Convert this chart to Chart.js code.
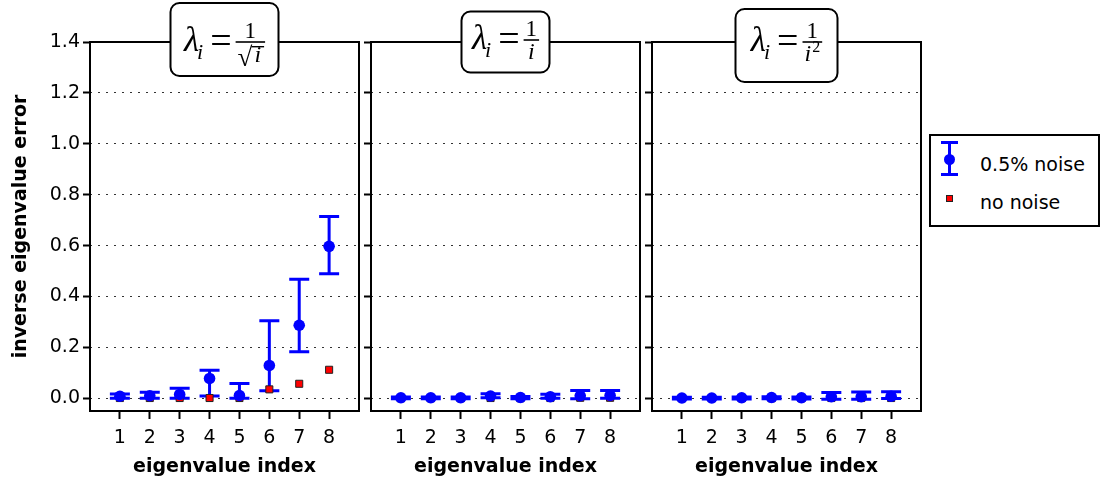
<!DOCTYPE html>
<html>
<head>
<meta charset="utf-8">
<script src="https://cdn.jsdelivr.net/npm/chart.js@4.4.1/dist/chart.umd.min.js"></script>
<style>
  body { margin: 0; background: #fff; }
  #wrap { position: relative; width: 1100px; height: 481px; overflow: hidden; }
  #wrap canvas { position: absolute; left: 0; top: 0; }
  .legend { position: absolute; left: 929px; top: 134px; width: 171px; height: 93px;
            box-sizing: border-box; border: 2px solid #000; background: #fff;
            font-family: "DejaVu Sans", sans-serif; font-size: 19px; color: #000; }
  .legend .lbl { position: absolute; left: 49px; line-height: 22px; white-space: nowrap; }
  .legend .blk { position: absolute; background: #0000ff; }
</style>
</head>
<body>
<div id="wrap">
  <canvas id="p1" width="1100" height="481"></canvas>
  <canvas id="p2" width="1100" height="481"></canvas>
  <canvas id="p3" width="1100" height="481"></canvas>
  <div class="legend">
    <div class="blk" style="left:17px;top:6px;width:3px;height:32px"></div>
    <div class="blk" style="left:10px;top:5px;width:17px;height:3px"></div>
    <div class="blk" style="left:10px;top:37px;width:17px;height:3px"></div>
    <div class="blk" style="left:13px;top:18px;width:11px;height:11px;border-radius:50%"></div>
    <div class="lbl" style="top:17px">0.5% noise</div>
    <div style="position:absolute;left:15px;top:59px;width:5px;height:5px;background:#ff0000;border:1px solid #222"></div>
    <div class="lbl" style="top:55px">no noise</div>
  </div>
</div>
<script>
// eigenvalue index and axis ticks
const idx    = [1, 2, 3, 4, 5, 6, 7, 8];
const xTicks = [1, 2, 3, 4, 5, 6, 7, 8];
const yTicks = [0.0, 0.2, 0.4, 0.6, 0.8, 1.0, 1.2, 1.4];

// lambda_i = 1/sqrt(i)
const sqrtMean  = [0.008, 0.010, 0.015, 0.078, 0.011, 0.129, 0.287, 0.597];
const sqrtLow   = [0.000, 0.000, 0.000, 0.009, 0.000, 0.030, 0.183, 0.489];
const sqrtHigh  = [0.017, 0.024, 0.039, 0.110, 0.058, 0.305, 0.468, 0.714];
const sqrtClean = [0.001, 0.001, 0.001, 0.001, 0.001, 0.035, 0.057, 0.112];

// lambda_i = 1/i
const invMean  = [0.002, 0.002, 0.002, 0.009, 0.003, 0.006, 0.010, 0.011];
const invLow   = [-0.002, -0.002, -0.002, 0.002, -0.002, 0.000, -0.002, 0.000];
const invHigh  = [0.005, 0.005, 0.005, 0.018, 0.007, 0.016, 0.031, 0.031];
const invClean = [0.000, 0.000, 0.000, 0.001, 0.000, 0.001, 0.002, 0.002];

// lambda_i = 1/i^2
const sqMean  = [0.001, 0.001, 0.002, 0.003, 0.002, 0.006, 0.006, 0.008];
const sqLow   = [-0.003, -0.003, -0.003, -0.002, -0.003, -0.004, -0.004, -0.001];
const sqHigh  = [0.004, 0.004, 0.005, 0.006, 0.005, 0.023, 0.025, 0.026];
const sqClean = [0.000, 0.000, 0.000, 0.000, 0.000, 0.001, 0.001, 0.001];

const SANS = '"DejaVu Sans", sans-serif';
const SERIF = '"Liberation Serif", serif';

// vertical error bars, drawn under the markers
const errorBars = {
  id: 'errorBars',
  beforeDatasetsDraw(chart) {
    const ds = chart.data.datasets[0];
    const xs = chart.scales.x, ys = chart.scales.y;
    const ctx = chart.ctx;
    ctx.save();
    ctx.strokeStyle = '#0000ff';
    ctx.lineWidth = 3;
    ds.errLow.forEach((lo, i) => {
      const x = xs.getPixelForValue(idx[i]);
      const y0 = ys.getPixelForValue(lo), y1 = ys.getPixelForValue(ds.errHigh[i]);
      ctx.beginPath();
      ctx.moveTo(x, y0); ctx.lineTo(x, y1);
      ctx.moveTo(x - 10, y0); ctx.lineTo(x + 10, y0);
      ctx.moveTo(x - 10, y1); ctx.lineTo(x + 10, y1);
      ctx.stroke();
    });
    ctx.restore();
  }
};

// closed box round the plot area
const frame = {
  id: 'frame',
  afterDraw(chart) {
    const a = chart.chartArea, ctx = chart.ctx;
    ctx.save();
    ctx.strokeStyle = '#000';
    ctx.lineWidth = 2;
    ctx.strokeRect(a.left, a.top, a.right - a.left, a.bottom - a.top);
    ctx.restore();
  }
};

// rounded title box holding lambda_i = 1/(...)
const mathTitle = {
  id: 'mathTitle',
  afterDraw(chart, args, opts) {
    const a = chart.chartArea, ctx = chart.ctx;
    const cx = (a.left + a.right) / 2;
    const bx = cx - opts.w / 2, by = opts.cy - opts.h / 2;
    ctx.save();
    ctx.beginPath();
    ctx.roundRect(bx, by, opts.w, opts.h, 9);
    ctx.fillStyle = '#fff';
    ctx.fill();
    ctx.lineWidth = 2;
    ctx.strokeStyle = '#000';
    ctx.stroke();

    ctx.fillStyle = '#000';
    ctx.textBaseline = 'alphabetic';
    ctx.textAlign = 'left';
    const big = 'italic 35px ' + SERIF, sub = 'italic 22px ' + SERIF;
    const eq = '38px ' + SERIF, frac = '23px ' + SERIF, fracI = 'italic 24px ' + SERIF;
    const rad = '27px ' + SERIF, small = '16px ' + SERIF;
    const base = opts.base;

    ctx.font = big; const wL = ctx.measureText('λ').width;
    ctx.font = sub; const wi = ctx.measureText('i').width;
    ctx.font = eq; const wEq = ctx.measureText('=').width;
    ctx.font = frac; const wOne = ctx.measureText('1').width;
    ctx.font = rad; const wRad = ctx.measureText('√').width;
    ctx.font = fracI; const wDi = ctx.measureText('i').width;
    ctx.font = small; const wTwo = ctx.measureText('2').width;

    let wDen = wDi;
    if (opts.den === 'sqrt') wDen = wRad + wDi + 4;
    if (opts.den === 'sq') wDen = wDi + wTwo + 1;
    const wBar = Math.max(wOne, wDen) + 4;
    const total = wL + wi + 5 + wEq + 4 + wBar;
    let x = cx - total / 2;

    ctx.font = big; ctx.fillText('λ', x, base); x += wL;
    ctx.font = sub; ctx.fillText('i', x - 2, base + 8); x += wi + 5;
    ctx.font = eq; ctx.fillText('=', x, base + 2); x += wEq + 4;

    const barY = base - 9;
    ctx.fillRect(x, barY - 0.8, wBar, 1.6);
    ctx.font = frac; ctx.fillText('1', x + (wBar - wOne) / 2, barY - 4);
    const dx = x + (wBar - wDen) / 2;
    const dBase = barY + 19;
    if (opts.den === 'sqrt') {
      ctx.font = rad; ctx.fillText('√', dx, dBase + 5);
      ctx.fillRect(dx + wRad - 1, barY + 4, wDi + 6, 1.4);
      ctx.font = fracI; ctx.fillText('i', dx + wRad + 2, dBase + 1);
    } else if (opts.den === 'sq') {
      ctx.font = fracI; ctx.fillText('i', dx, dBase);
      ctx.font = small; ctx.fillText('2', dx + wDi + 1, dBase - 9);
    } else {
      ctx.font = fracI; ctx.fillText('i', dx, dBase);
    }
    ctx.restore();
  }
};

function makePanel(id, left, right, mean, low, high, clean, title, first) {
  const yw = first ? 90 : 8;
  return new Chart(document.getElementById(id), {
    type: 'scatter',
    data: {
      datasets: [
        { label: '0.5% noise', data: idx.map((x, i) => ({ x, y: mean[i] })),
          errLow: low, errHigh: high,
          pointRadius: 5.8, pointBackgroundColor: '#0000ff', pointBorderWidth: 0 },
        { label: 'no noise', data: idx.map((x, i) => ({ x, y: clean[i] })),
          pointStyle: 'rect', pointRadius: 5,
          pointBackgroundColor: '#ff0000', pointBorderColor: '#222', pointBorderWidth: 1 }
      ]
    },
    options: {
      responsive: false,
      animation: false,
      events: [],
      clip: false,
      layout: { padding: { left: left - yw, right: 1100 - right, top: 42, bottom: 0 } },
      plugins: { legend: { display: false }, tooltip: { enabled: false }, mathTitle: title },
      scales: {
        x: {
          type: 'linear', min: 0, max: 9,
          afterBuildTicks: s => { s.ticks = xTicks.map(v => ({ value: v })); },
          afterFit: s => { s.height = 70; },
          grid: { drawOnChartArea: false, tickLength: 8, tickWidth: 2, tickColor: '#000' },
          border: { display: false },
          ticks: { color: '#000', font: { family: SANS, size: 19 }, padding: 8 },
          title: { display: true, text: 'eigenvalue index', color: '#000',
                   font: { family: SANS, size: 19, weight: 'bold' }, padding: { top: 0, bottom: 3 } }
        },
        y: {
          type: 'linear', min: -0.05, max: 1.4,
          afterBuildTicks: s => { s.ticks = yTicks.map(v => ({ value: v })); },
          afterFit: s => { s.width = yw; },
          grid: { color: '#333', lineWidth: 1, tickLength: 7, tickWidth: 2, tickColor: '#000',
                  tickBorderDash: [1, 0] },
          border: { display: false, dash: [2, 6] },
          ticks: { display: first, color: '#000', font: { family: SANS, size: 19 }, padding: 3,
                   callback: v => v.toFixed(1) },
          title: { display: first, text: 'inverse eigenvalue error', color: '#000',
                   font: { family: SANS, size: 19, weight: 'bold' }, padding: { top: 10, bottom: 0 } }
        }
      }
    },
    plugins: [errorBars, frame, mathTitle]
  });
}

makePanel('p1', 90, 359, sqrtMean, sqrtLow, sqrtHigh, sqrtClean,
          { w: 108, h: 73, cy: 39.5, base: 51, den: 'sqrt' }, true);
makePanel('p2', 371, 640, invMean, invLow, invHigh, invClean,
          { w: 88, h: 61, cy: 42, base: 49, den: 'i' }, false);
makePanel('p3', 652, 921, sqMean, sqLow, sqHigh, sqClean,
          { w: 102, h: 73, cy: 45.5, base: 51, den: 'sq' }, false);
</script>
</body>
</html>
